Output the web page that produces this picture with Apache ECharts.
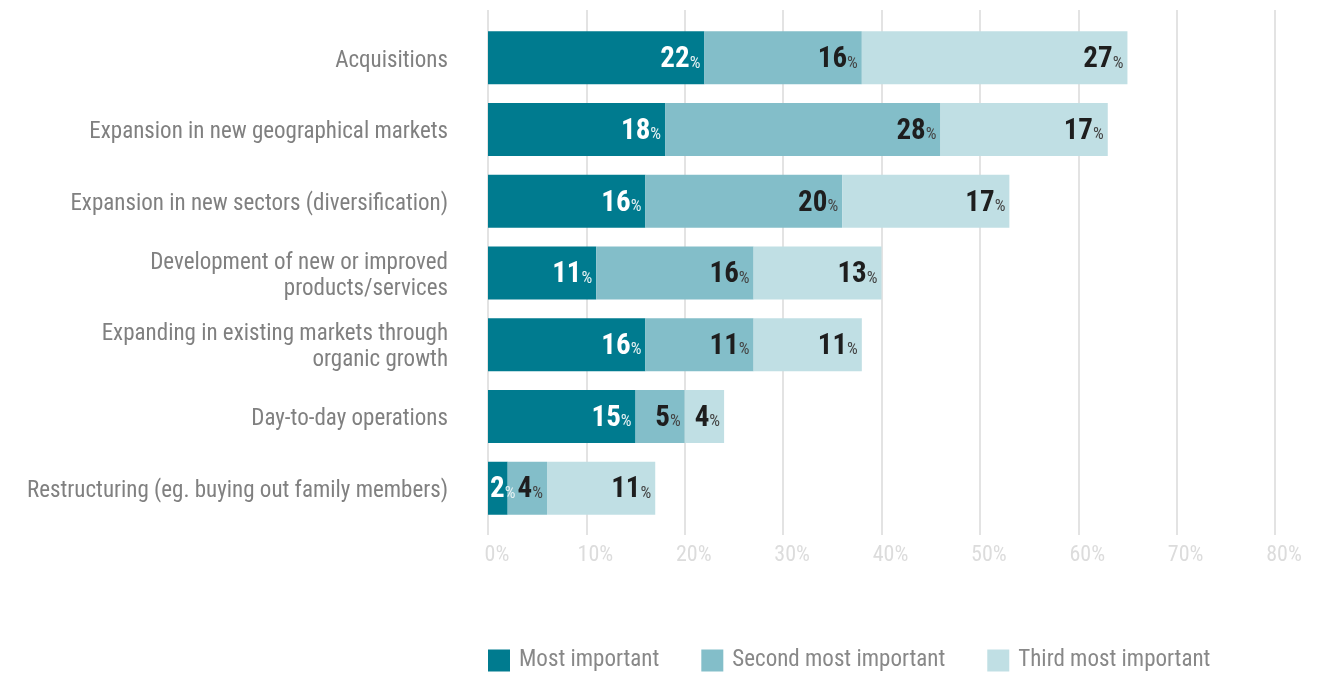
<!DOCTYPE html>
<html><head><meta charset="utf-8">
<script src="https://cdn.jsdelivr.net/npm/echarts@6/dist/echarts.min.js"></script>
<style>html,body{margin:0;padding:0;background:#fff}#c{width:1326px;height:673px}</style>
</head><body><div id="c"></div>
<script>
const categories = [
  'Acquisitions',
  'Expansion in new geographical markets',
  'Expansion in new sectors (diversification)',
  'Development of new or improved\nproducts/services',
  'Expanding in existing markets through\norganic growth',
  'Day-to-day operations',
  'Restructuring (eg. buying out family members)'
];
const seriesNames = ['Most important', 'Second most important', 'Third most important'];
const mostImportant = [22, 18, 16, 11, 16, 15, 2];
const secondImportant = [16, 28, 20, 16, 11, 5, 4];
const thirdImportant = [27, 17, 17, 13, 11, 4, 11];
const tickValues = [0, 10, 20, 30, 40, 50, 60, 70, 80];

const FONT = '"Liberation Sans Narrow", "Roboto Condensed", "Arial Narrow", Roboto, sans-serif';
const colors = ['#007b8f', '#83bec9', '#c0dfe4'];
const valueData = [mostImportant, secondImportant, thirdImportant];

function mkSeries(i) {
  const dark = i === 0;
  return {
    name: seriesNames[i], type: 'bar', stack: 'all', xAxisIndex: 0, yAxisIndex: 0,
    barWidth: 53,
    data: valueData[i].map(v => v < 3 ? { value: v, label: { position: 'insideLeft', distance: 2 } } : v),
    itemStyle: { color: colors[i] },
    label: {
      show: true, position: 'insideRight', distance: 4, offset: [0, 2],
      formatter: p => '{v|' + p.value + '}{p|%}',
      rich: {
        v: { fontFamily: FONT, fontSize: 29, fontWeight: 'bold', color: dark ? '#ffffff' : '#1e1e1e' },
        p: { fontFamily: FONT, fontSize: 17, color: dark ? '#e6f1f3' : '#444', padding: [7, 0, 0, 0] }
      }
    }
  };
}

const chart = echarts.init(document.getElementById('c'));
chart.setOption({
  animation: false,
  backgroundColor: '#fff',
  grid: [
    { left: 488, right: 51, top: 22, bottom: 149 },
    { left: 488, right: 51, top: 10, bottom: 138 }
  ],
  legend: {
    left: 488, top: 649, padding: 0, itemWidth: 22, itemHeight: 22, itemGap: 42,
    icon: 'rect',
    textStyle: { fontFamily: FONT, fontSize: 23, color: '#888', padding: [0, 0, 0, 4] },
    data: seriesNames
  },
  xAxis: [
    { gridIndex: 0, type: 'value', min: 0, max: 80, interval: 10, show: false },
    { gridIndex: 1, type: 'value', min: tickValues[0], max: tickValues[tickValues.length - 1], interval: 10,
      axisLine: { show: false }, axisTick: { show: false },
      splitLine: { show: true, lineStyle: { color: '#e3e3e3', width: 2 } },
      axisLabel: { margin: 9, fontFamily: FONT, fontSize: 22, color: '#dcdcdc',
        padding: [0, 0, 0, 18], formatter: v => v + '%' } }
  ],
  yAxis: [
    { gridIndex: 0, type: 'category', inverse: true, data: categories,
      axisLine: { show: false }, axisTick: { show: false },
      axisLabel: { margin: 40, align: 'right',
        formatter: v => '{s|}\n' + v.split('\n').map(l => '{a|' + l + '}').join('\n'),
        rich: {
          s: { height: 6, lineHeight: 6, fontSize: 6 },
          a: { fontFamily: FONT, fontSize: 23, color: '#808080', lineHeight: 26, align: 'right' }
        } } },
    { gridIndex: 1, type: 'value', show: false }
  ],
  series: [mkSeries(0), mkSeries(1), mkSeries(2)]
});
</script></body></html>
